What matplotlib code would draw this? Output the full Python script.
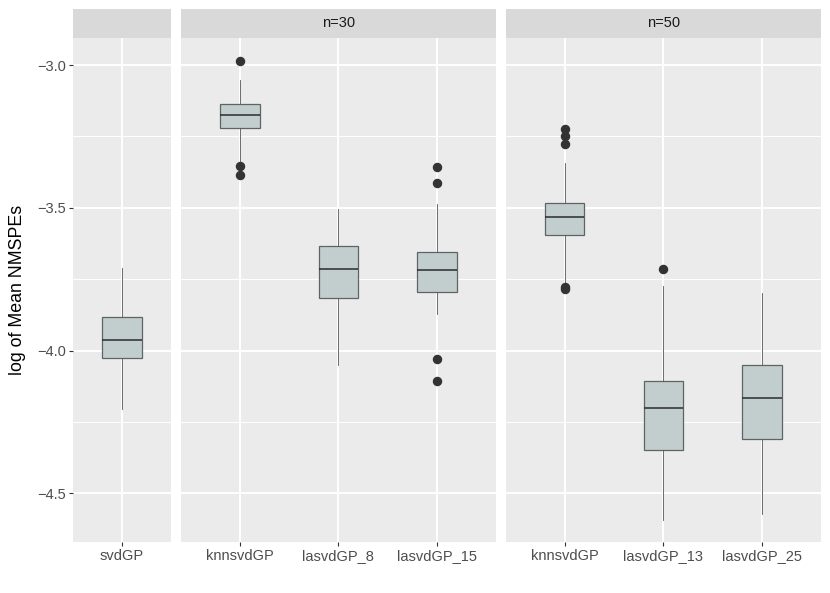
import numpy as np
import matplotlib
matplotlib.use("Agg")
import matplotlib.pyplot as plt
from matplotlib.patches import Rectangle

plt.rcParams['font.family'] = ['Liberation Sans', 'DejaVu Sans']

# facets and categories
panel_titles = ["", "n=30", "n=50"]
panel_labels = [["svdGP"],
                ["knnsvdGP", "lasvdGP_8", "lasvdGP_15"],
                ["knnsvdGP", "lasvdGP_13", "lasvdGP_25"]]

# box statistics (log of mean NMSPE)
whislo = [[-4.206], [-3.335, -4.051, -3.872], [-3.765, -4.594, -4.573]]
q1 = [[-4.027], [-3.221, -3.817, -3.796], [-3.596, -4.347, -4.309]]
med = [[-3.963], [-3.175, -3.716, -3.717], [-3.532, -4.202, -4.166]]
q3 = [[-3.883], [-3.137, -3.634, -3.656], [-3.483, -4.108, -4.051]]
whishi = [[-3.712], [-3.0525, -3.504, -3.487], [-3.344, -3.774, -3.800]]
fliers = [[[]],
          [[-2.985, -3.355, -3.384], [], [-3.358, -3.413, -4.029, -4.108]],
          [[-3.225, -3.250, -3.276, -3.776, -3.785], [-3.716], []]]

y_major = [-3.0, -3.5, -4.0, -4.5]
y_minor = [-3.25, -3.75, -4.25]
ylim = (-4.672, -2.904)

W, H = 830, 593
fig = plt.figure(figsize=(W / 100, H / 100), dpi=100)
fig.patch.set_facecolor('white')

left, right = 72.7, 821.0
top, bottom = 37.7, 542.3
gap = 9.4
ratios = [1.0, 3.2, 3.2]
unit = (right - left - 2 * gap) / sum(ratios)
strip_h = 28.7
fs = 10.5

x0 = left
for p, title in enumerate(panel_titles):
    w = ratios[p] * unit
    ax = fig.add_axes([x0 / W, 1 - bottom / H, w / W, (bottom - top) / H])
    x0 += w + gap

    n = len(panel_labels[p])
    stats = []
    for i in range(n):
        stats.append(dict(med=med[p][i], q1=q1[p][i], q3=q3[p][i],
                          whislo=whislo[p][i], whishi=whishi[p][i],
                          fliers=np.array(fliers[p][i])))
    pos = np.arange(1, n + 1)
    ax.bxp(stats, positions=pos, widths=0.4, patch_artist=True,
           showcaps=False, zorder=3,
           boxprops=dict(facecolor='#C2CECE', edgecolor='#5E6363', linewidth=0.9),
           medianprops=dict(color='#2B2B2B', linewidth=1.1),
           whiskerprops=dict(color='#555555', linewidth=0.6),
           flierprops=dict(marker='o', markersize=5.8, markerfacecolor='#333333',
                           markeredgecolor='#333333', linestyle='none'))

    ax.set_facecolor('#EBEBEB')
    for s in ax.spines.values():
        s.set_visible(False)
    ax.set_ylim(*ylim)
    if n == 1:
        ax.set_xlim(0.5, 1.5)
    else:
        ax.set_xlim(0.4, n + 0.6)

    ax.set_xticks(pos)
    ax.set_xticklabels(panel_labels[p])
    ax.set_yticks(y_major)
    ax.set_yticks(y_minor, minor=True)
    ax.grid(True, which='major', color='white', linewidth=1.4, zorder=0)
    ax.grid(True, which='minor', axis='y', color='white', linewidth=0.7, zorder=0)
    ax.set_axisbelow(True)
    ax.tick_params(axis='x', length=3.0, width=0.8, color='#333333',
                   labelsize=fs, labelcolor='#4D4D4D', pad=2.0)
    ax.tick_params(axis='y', which='major', length=3.0, width=0.8, color='#333333',
                   labelsize=fs, labelcolor='#4D4D4D', pad=1.8)
    ax.tick_params(axis='y', which='minor', length=0)
    if p == 0:
        ax.set_yticklabels([f"{v:.1f}".replace('-', '\u2212') for v in y_major])
    else:
        ax.tick_params(axis='y', which='major', length=0, labelleft=False)

    # facet strip
    sh = strip_h / (bottom - top)
    ax.add_patch(Rectangle((0, 1), 1, sh, transform=ax.transAxes,
                           facecolor='#D9D9D9', edgecolor='none', clip_on=False))
    if title:
        ax.text(0.5, 1 + sh / 2, title, transform=ax.transAxes, ha='center',
                va='center', fontsize=fs, color='#1A1A1A')

fig.text(17 / W, 1 - ((top + bottom) / 2) / H, "log of Mean NMSPEs",
         rotation=90, ha='center', va='center', fontsize=12.8, color='black')

fig.savefig("out.png", dpi=100)
